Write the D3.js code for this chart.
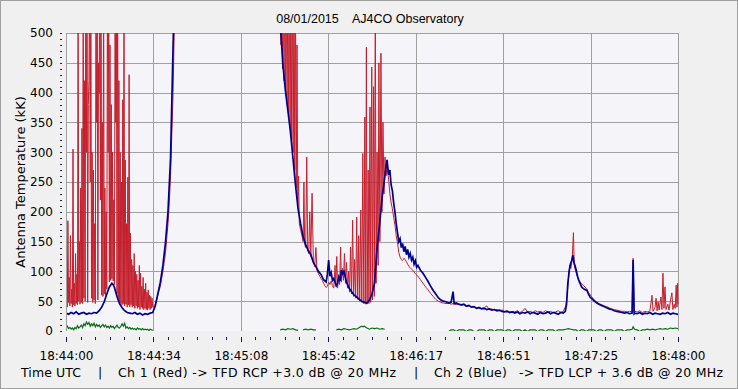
<!DOCTYPE html>
<html>
<head>
<meta charset="utf-8">
<script src="https://cdn.jsdelivr.net/npm/d3@7/dist/d3.min.js"></script>
<style>
html,body{margin:0;padding:0;background:#f0f0f0;}
svg{display:block;}
text{font-family:"DejaVu Sans",Verdana,sans-serif;font-size:12px;fill:#000;}
</style>
</head>
<body>
<svg id="chart" width="738" height="389"></svg>
<script>
// ---------------- DATA ----------------
const chartTitle = "08/01/2015    AJ4CO Observatory";
const yTitle = "Antenna Temperature (kK)";
const xTickLabels = ["18:44:00","18:44:34","18:45:08","18:45:42","18:46:17","18:46:51","18:47:25","18:48:00"];
const yTickValues = [0,50,100,150,200,250,300,350,400,450,500];
const footerParts = ["Time UTC","|","Ch 1 (Red) -> TFD RCP +3.0 dB @ 20 MHz","|","Ch 2 (Blue)","-> TFD LCP + 3.6 dB @ 20 MHz"];

// Ch 1 (red) first burst, sampled every 0.25 s from 18:44:00 (kK)
const ch1Burst = [45,120,40,185,48,90,42,160,46,70,40,305,44,80,42,130,46,95,44,600,
  50,150,45,240,48,340,46,600,55,420,50,600,300,600,48,380,420,600,250,600,
  55,300,48,270,52,180,46,600,350,600,52,450,400,600,220,600,60,350,58,600,
  62,240,60,200,70,600,300,600,82,480,85,380,88,300,84,220,78,600,350,600,
  62,600,55,420,50,300,46,250,44,388,46,600,42,287,45,180,40,258,44,430,
  40,164,44,120,40,110,42,130,38,100,42,95,38,85,40,110,36,97,40,75,
  38,90,36,70,38,80,36,65,35,69,38,60,36,58,38,55,40];

// Ch 1 (red) remainder: [seconds after 18:44:00, kK]
const ch1Rest = [
 [34.5,42],[35,45],[35.5,52],[36,60],[36.5,68],[37,75],[37.5,88],[38,100],[38.5,115],[39,130],[39.5,155],[40,180],[40.5,215],[41,260],[41.5,330],[42,400],[42.5,520],[43,650],[83,650],
 [84,600],[84.3,480],[84.6,600],[84.9,440],[85.2,600],[85.5,420],[85.8,600],[86.1,395],[86.4,600],[86.7,380],[87,600],[87.3,360],[87.6,600],[87.9,340],[88.2,600],[88.5,320],[88.8,600],[89.1,300],[89.4,600],[89.7,270],[90,560],[90.3,240],[90.6,480],[90.9,210],[91.2,260],[91.5,180],
 [92,170],[92.5,160],[93,150],[93.3,250],[93.6,145],[94,140],[94.4,292],[94.8,135],[95.2,130],[95.6,200],[96,125],[96.5,231],[97,118],[97.5,108],[98,140],[98.4,102],[99,96],[99.5,92],[100,88],[100.5,85],[101,80],[101.5,76],[102,73],[102.5,75],[103,82],[103.5,78],[104,84],[104.5,76],[105,72],[105.5,110],[105.8,75],[106.2,125],[106.5,72],[107,95],[107.3,78],[107.7,141],[108,82],[108.4,105],[108.8,85],[109.2,130],[109.6,80],[110,115],[110.4,72],[110.8,100],[111.2,65],
 [111.6,141],[112,62],[112.4,186],[112.8,58],[113.2,120],[113.6,55],[114,191],[114.4,53],[114.8,160],[115.2,50],[115.6,203],[116,48],[116.4,298],[116.8,46],[117.2,359],[117.5,45],[117.8,476],[118.1,45],[118.5,270],[118.8,46],[119.2,376],[119.5,48],[119.9,443],[120.2,52],[120.6,410],[120.9,58],[121.3,560],[121.6,80],[122,300],[122.4,110],[122.7,450],[123.1,150],[123.5,466],[123.9,200],[124.3,350],[124.7,230],[125.1,292],[125.5,260],[126,275],
 [126.5,255],[127,230],[127.5,215],[128,205],[128.5,190],[129,178],[129.5,160],[130,148],[130.5,132],[131,124],[131.5,120],[132,118],[132.5,122],[133,120],[133.5,116],[134,112],[134.5,108],[135,106],[136,102],[137,96],[138,92],[139,86],[140,80],[141,74],[142,69],[143,63],[144,58],[145,53],[146,50],[147,48],[148,47],[149,46],[150,47],[151,45],[152,46],[153,44],[154,45],[155,43],[156,44],[157,41],[158,42],[159,40],[160,41],[161,39],[162,40],[163,38],[164,39],[165,42],[166,36],[167,37],[168,35],[169,36],[170,34],[171,35],[172,33],[173,34],[174,32],[175,33],[176,32],[177,34],[178,31],[179,33],[180,38],[181,32],[182,33],[183,31],[184,34],[185,32],[186,33],[187,31],[188,34],[189,32],[190,33],[191,31],[192,32],[193,34],[194,31],[195,33],
 [196,42],[196.5,60],[197,85],[197.5,110],[198,105],[198.5,120],[199,165],[199.3,110],[200,98],[200.5,92],[201,86],[202,80],[203,76],[204,72],[205,64],[206,58],[207,53],[208,49],[209,46],[210,44],[211,42],[212,41],[213,39],[214,37],[215,36],[216,35],[217,34],[218,33],[219,33],[220,32],[221,33],[222,32],[222.4,122],[222.8,32],[223,33],[224,32],[225,34],[226,31],[227,33],[228,32],[229,34],[229.8,60],[230.2,33],[231,40],[231.4,55],[231.8,34],[232.2,49],[232.6,35],[233.3,57],[233.7,36],[234.1,97],[234.5,38],[234.9,74],[235.3,36],[236,45],[236.5,35],[237,50],[237.6,64],[238,36],[238.5,45],[238.9,38],[239.3,77],[239.6,40],[239.8,80],[240,45]
];

// Ch 2 (blue): [seconds after 18:44:00, kK]
const ch2 = [
 [0,30],[1,28],[2,31],[3,29],[4,32],[5,28],[6,30],[7,31],[8,28],[9,30],[10,29],[11,31],[12,30],
 [13,34],[14,40],[15,49],[16,62],[17,74],[18,80],[18.5,78],[19,73],[20,58],[21,46],[22,39],[23,34],[24,31],[25,30],
 [26,29],[27,31],[28,28],[29,30],[30,27],[31,29],[32,28],[33,30],
 [34,31],[35,42],[36,62],[37,82],[38,110],[39,148],[40,200],[41,290],[42,480],[43,650],
 [83,650],[84,520],[85,450],[86,405],[87,370],[88,335],[89,290],[90,245],[91,205],[92,180],[93,158],[94,145],[95,135],[96,128],[97,115],[98,108],[99,100],[100,95],[101,86],[102,82],[102.5,95],[103,119],[103.5,92],[104,98],[104.5,85],[105,88],[106,76],[106.5,80],[107,90],[107.5,84],[108,102],[108.5,96],[109,100],[110,82],[111,72],[112,66],[113,60],[114,57],[115,53],[116,50],[117,48],[118,47],[119,52],[120,62],[121,80],[121.5,110],[122,140],[123,180],[124,225],[125,258],[125.9,287],[126.5,262],[127,270],[127.5,245],[128,235],[128.5,215],[129,200],[129.5,180],[130,165],[130.5,150],[131,155],[131.5,140],[132,147],[132.5,133],[133,142],[133.5,128],[134,137],[134.5,124],[135,130],[135.5,119],[136,124],[136.5,112],[137,118],[137.5,107],[138,110],[139,102],[140,97],[141,90],[142,83],[143,75],[144,68],[145,62],[146,56],[147,52],[148,50],[149,49],[150,47],[151,48],[151.8,66],[152.2,46],[153,47],[154,45],[155,44],[156,45],[157,42],[158,43],[159,40],[160,41],[161,38],[162,39],[163,37],[164,38],[165,36],[166,37],[167,35],[168,36],[169,34],[170,35],[171,33],[172,32],[173,33],[174,31],[175,32],[176,30],[177,32],[178,29],[179,31],[180,30],[181,32],[182,29],[183,31],[184,30],[185,28],[186,31],[187,29],[188,30],[189,32],[190,29],[191,31],[192,30],[193,28],[194,31],[195,30],
 [195.8,33],[196.3,45],[196.8,80],[197.3,100],[197.8,112],[198.3,118],[198.8,127],[199.2,115],[199.6,110],[200.1,102],[200.6,92],[201.1,85],[201.6,80],[202.2,74],[202.7,72],[203.3,70],[203.8,69],[204.3,68],[204.9,62],[205.5,57],[206.3,54],[207.2,50],[208.2,47],[209,45],[210,43],[211,41],[212,39],[213,37],[214,36],[215,34],[216,33],[217,32],[218,31],[219,30],[220,31],[221,29],[222,30],[222.4,119],[222.8,29],[223,30],[224,29],[225,31],[226,28],[227,30],[228,29],[229,31],[230,28],[231,30],[232,29],[233,28],[234,30],[235,29],[236,31],[237,28],[238,30],[239,29],[240,28]
];

// Green trace (kK); null = not shown
const ch3 = [
 [0,5],[0.5,8],[1,4],[1.5,6],[2,3],[2.5,5],[3,2],[3.5,6],[4,4],[4.5,9],[5,5],[5.5,7],[6,10],[6.5,6],[7,12],[7.5,9],[8,15],[8.5,11],[9,14],[9.5,8],[10,12],[10.5,9],[11,13],[11.5,7],[12,11],[12.5,8],[13,10],[13.5,6],[14,9],[14.5,11],[15,7],[15.5,10],[16,6],[16.5,8],[17,5],[17.5,9],[18,6],[18.5,8],[19,4],[19.5,7],[20,10],[20.5,6],[21,5],[21.5,8],[22,12],[22.5,8],[23,13],[23.5,5],[24,7],[24.5,4],[25,6],[25.5,3],[26,5],[26.5,3],[27,4],[27.5,2],[28,5],[28.5,3],[29,4],[29.5,2],[30,4],[30.5,2],[31,3],[31.5,2],[32,3],[32.5,1],[33,3],[33.5,2],[34,1],[34.5,null],
 [84,2],[85,3],[86,2],[87,4],[88,3],[89,4],[90,2],[91,1],[91.5,null],
 [93,2],[94,3],[95,2],[96,3],[97,2],[98,2],[98.5,null],
 [106,2],[107,3],[108,2],[109,4],[110,3],[111,2],[112,3],[113,4],[114,3],[115,6],[116,8],[116.5,7],[117,8],[118,5],[119,3],[120,5],[121,4],[122,5],[123,3],[124,4],[125,3],[125.5,null],
 [150,-1],[151,2],[152,2],[153,-1],[154,2],[155,2],[156,2],[157,-1],[158,2],[159,2],[160,-1],[161,-1],[162,2],[163,2],[164,2],[165,-1],[166,2],[167,2],[168,-1],[169,2],[170,2],[171,2],[172,-1],[173,2],[174,2],[175,-1],[176,2],[177,2],[178,2],[179,-1],[180,2],[181,-1],[182,2],[183,2],[184,2],[185,-1],[186,2],[187,2],[188,-1],[189,2],[190,2],[191,2],[192,-1],[193,2],[194,2],[195,2],[196,3],[197,4],[198,3],[199,2],[200,2],[201,-1],[202,2],[203,2],[204,-1],[205,2],[206,2],[207,2],[208,-1],[209,2],[210,2],[211,-1],[212,2],[213,2],[214,2],[215,-1],[216,2],[217,2],[218,2],[219,-1],[220,2],[221,2],[222,3],[222.4,7],[223,3],[224,2],[225,-1],[226,2],[227,2],[228,3],[229,2],[230,3],[231,2],[232,3],[233,4],[234,3],[235,4],[236,3],[237,5],[238,4],[239,5],[240,4]
];

// ---------------- CHART ----------------
const W = 738, H = 389;
const plot = {left:66, right:678, top:33, bottom:331};
const svg = d3.select("#chart");

const x = d3.scaleLinear().domain([0,240]).range([plot.left, plot.right]);
const y = d3.scaleLinear().domain([0,500]).range([plot.bottom, plot.top]);

// background + frame
svg.append("rect").attr("x",0).attr("y",0).attr("width",W).attr("height",H).attr("fill","#f0f0f0");
svg.append("rect").attr("x",0.5).attr("y",0.5).attr("width",W-1).attr("height",H-1)
  .attr("fill","none").attr("stroke","#a0a0a0");
svg.append("rect").attr("x",plot.left).attr("y",plot.top)
  .attr("width",plot.right-plot.left).attr("height",plot.bottom-plot.top).attr("fill","#f5f5f9");

// tick positions
const majorT = xTickLabels.map((d,i)=> i*240/(xTickLabels.length-1));
const minorT = [];
for (let i=0;i<majorT.length-1;i++){ for(let k=1;k<6;k++) minorT.push(majorT[i]+k*(majorT[i+1]-majorT[i])/6); }
const yMinor = d3.range(0,501,10);

// grid
const grid = svg.append("g").attr("stroke","#a0a0a0").attr("stroke-width",1).attr("shape-rendering","crispEdges");
grid.selectAll(".h").data(yTickValues.filter(v=>v>0)).join("line")
  .attr("x1",plot.left).attr("x2",plot.right).attr("y1",d=>Math.round(y(d))+0.5).attr("y2",d=>Math.round(y(d))+0.5);
grid.selectAll(".v").data(majorT).join("line")
  .attr("y1",plot.top).attr("y2",plot.bottom).attr("x1",d=>Math.round(x(d))+0.5).attr("x2",d=>Math.round(x(d))+0.5);

// clip
svg.append("clipPath").attr("id","clip").append("rect")
  .attr("x",plot.left).attr("y",plot.top).attr("width",plot.right-plot.left+1).attr("height",plot.bottom-plot.top);

const line = d3.line().defined(d=>d[1]!==null).x(d=>x(d[0])).y(d=>y(d[1]));
const ch1 = ch1Burst.map((v,i)=>[i*0.25, v]).concat(ch1Rest);

const g = svg.append("g").attr("clip-path","url(#clip)");
g.append("path").datum(ch1).attr("d",line).attr("fill","none").attr("stroke","#c41f2d").attr("stroke-width",1);
g.append("path").datum(ch2).attr("d",line).attr("fill","none").attr("stroke","#000090").attr("stroke-width",1.7);
g.append("path").datum(ch3).attr("d",line).attr("fill","none").attr("stroke","#0b6a12").attr("stroke-width",1.2);

// X axis ticks (major + minor) and labels
const xMajorAx = svg.append("g").attr("transform",`translate(0,337)`)
  .call(d3.axisBottom(x).tickValues(majorT).tickSize(5).tickFormat(""));
const xMinorAx = svg.append("g").attr("transform",`translate(0,337)`)
  .call(d3.axisBottom(x).tickValues(minorT).tickSize(3).tickFormat(""));
[xMajorAx,xMinorAx].forEach(a=>{a.select(".domain").remove(); a.selectAll("line").attr("stroke","#101070").attr("shape-rendering","crispEdges");});
const xLab = svg.append("g").attr("transform",`translate(0,${plot.bottom})`)
  .call(d3.axisBottom(x).tickValues(majorT).tickSize(0).tickPadding(20).tickFormat((d,i)=>xTickLabels[i]));
xLab.select(".domain").remove();
xLab.selectAll("text").attr("font-family","DejaVu Sans").attr("font-size","13px").attr("fill","#000");

// Y axis
const yLab = svg.append("g").attr("transform",`translate(${plot.left},0)`)
  .call(d3.axisLeft(y).tickValues(yTickValues).tickSize(0).tickPadding(13));
yLab.select(".domain").remove();
yLab.selectAll("text").attr("font-family","DejaVu Sans").attr("font-size","12px").attr("fill","#000");
const yMin = svg.append("g").attr("transform",`translate(${plot.left-6},0)`)
  .call(d3.axisLeft(y).tickValues(yMinor).tickSize(-2).tickFormat(""));
yMin.select(".domain").remove();
yMin.selectAll("line").attr("stroke","#202040").attr("shape-rendering","crispEdges");
// left axis line
svg.append("line").attr("x1",plot.left+0.5).attr("x2",plot.left+0.5).attr("y1",plot.top).attr("y2",plot.bottom)
  .attr("stroke","#a0a0a0").attr("shape-rendering","crispEdges");

// titles
svg.append("text").attr("x",370).attr("y",23).attr("text-anchor","middle")
  .style("font-family","'Liberation Sans',Arial,sans-serif").style("font-size","12.5px").style("white-space","pre")
  .text(chartTitle);
svg.append("text").attr("transform","translate(25,182) rotate(-90)").attr("text-anchor","middle")
  .style("font-size","13px").text(yTitle);

// footer
const footX = [21, 98, 118, 414, 434, 519];
const footLen = [60, null, 278, null, 73, 204];
svg.selectAll(".foot").data(footerParts).join("text")
  .attr("x",(d,i)=>footX[i]).attr("y",377).style("font-size","12.5px")
  .each(function(d,i){ if(footLen[i]) d3.select(this).attr("textLength",footLen[i]).attr("lengthAdjust","spacing"); })
  .text(d=>d);
</script>
</body>
</html>
